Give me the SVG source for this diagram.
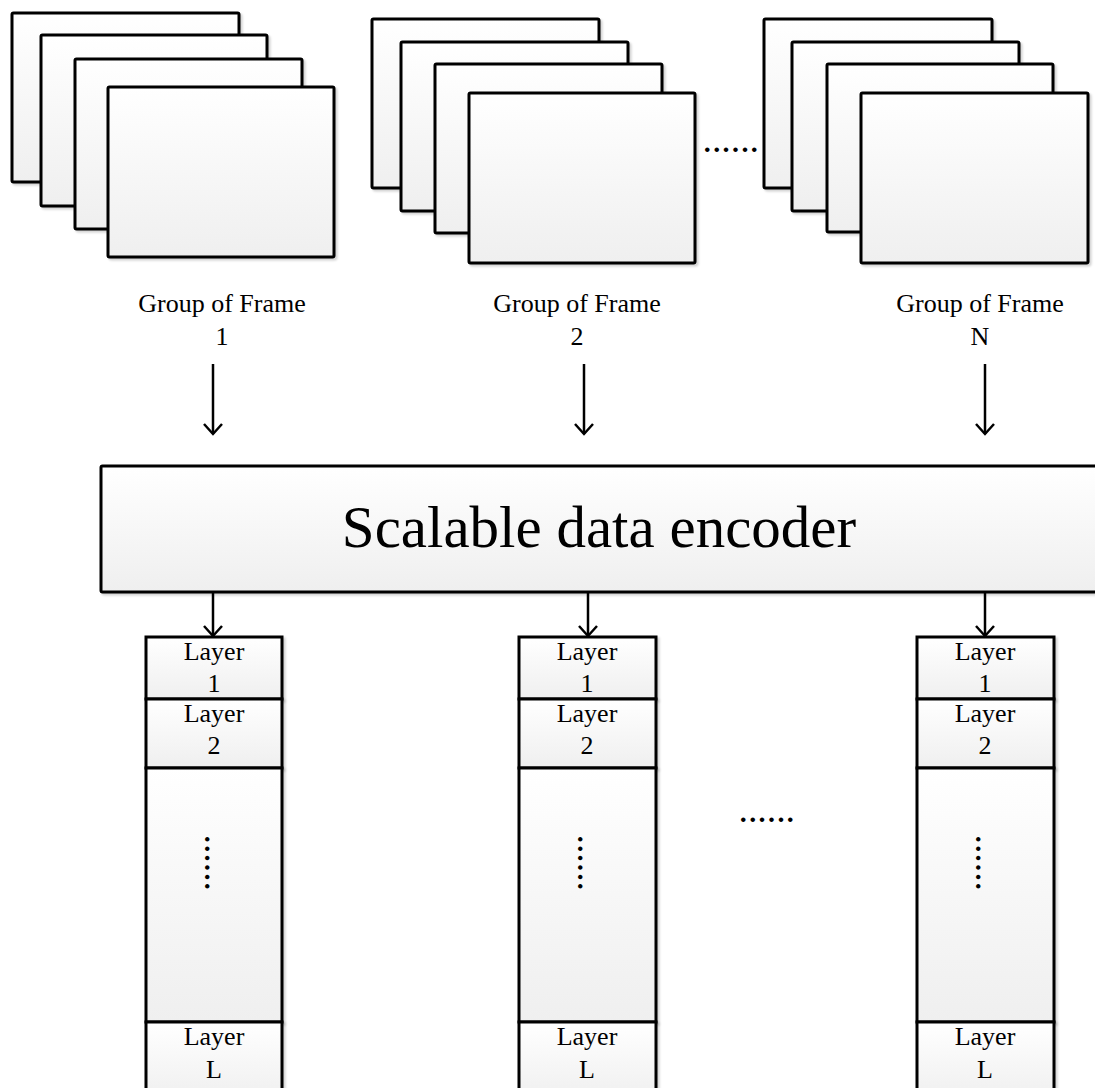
<svg xmlns="http://www.w3.org/2000/svg" width="1095" height="1088" viewBox="0 0 1095 1088">
<style>
.box{fill:url(#g);stroke:#000;stroke-width:3;filter:url(#sh)}
.t{font-family:"Liberation Serif","Times New Roman",serif;fill:#000;text-anchor:middle}
.lbl{font-size:26px}
.dots{font-size:28px;font-weight:bold;letter-spacing:2.4px}
.conn line,.conn path{stroke:#000;stroke-width:2.5;fill:none}
</style>
<defs>
<linearGradient id="g" x1="0" y1="0" x2="0" y2="1">
<stop offset="0" stop-color="#ffffff"/>
<stop offset="1" stop-color="#efefef"/>
</linearGradient>
<filter id="sh" x="-5%" y="-5%" width="115%" height="115%">
<feDropShadow dx="2" dy="2" stdDeviation="1" flood-color="#000" flood-opacity="0.18"/>
</filter>
</defs>

<g id="gof1">
<rect class="box" x="12" y="13" width="227" height="169" rx="1.5"/>
<rect class="box" x="41" y="35" width="226" height="171" rx="1.5"/>
<rect class="box" x="75" y="59" width="227" height="170" rx="1.5"/>
<rect class="box" x="108" y="87" width="226" height="170" rx="1.5"/>
<text class="t lbl" x="222" y="312">Group of Frame</text>
<text class="t lbl" x="222" y="345">1</text>
</g>

<g id="gof2">
<rect class="box" x="372" y="19" width="227" height="169" rx="1.5"/>
<rect class="box" x="401" y="42" width="227" height="169" rx="1.5"/>
<rect class="box" x="435" y="64" width="227" height="169" rx="1.5"/>
<rect class="box" x="469" y="93" width="226" height="170" rx="1.5"/>
<text class="t lbl" x="577" y="312">Group of Frame</text>
<text class="t lbl" x="577" y="345">2</text>
</g>

<text id="dots-top" class="t dots" x="732" y="152">......</text>

<g id="gofN">
<rect class="box" x="764" y="19" width="228" height="169" rx="1.5"/>
<rect class="box" x="792" y="42" width="227" height="169" rx="1.5"/>
<rect class="box" x="827" y="64" width="226" height="168" rx="1.5"/>
<rect class="box" x="861" y="93" width="227" height="170" rx="1.5"/>
<text class="t lbl" x="980" y="312">Group of Frame</text>
<text class="t lbl" x="980" y="345">N</text>
</g>

<g id="encoder">
<rect class="box" x="101" y="466" width="1000" height="126" rx="1.5"/>
<text class="t" x="599" y="547" font-size="59">Scalable data encoder</text>
</g>

<g id="layers1">
<rect class="box" x="146" y="637" width="136" height="62"/>
<rect class="box" x="146" y="699" width="136" height="69"/>
<rect class="box" x="146" y="768" width="136" height="254"/>
<rect class="box" x="146" y="1022" width="136" height="80"/>
<text class="t lbl" x="214" y="660">Layer</text>
<text class="t lbl" x="214" y="692">1</text>
<text class="t lbl" x="214" y="722">Layer</text>
<text class="t lbl" x="214" y="754">2</text>
<text class="t dots" transform="translate(205,864) rotate(90)">......</text>
<text class="t lbl" x="214" y="1045">Layer</text>
<text class="t lbl" x="214" y="1078">L</text>
</g>

<g id="layers2">
<rect class="box" x="519" y="637" width="137" height="62"/>
<rect class="box" x="519" y="699" width="137" height="69"/>
<rect class="box" x="519" y="768" width="137" height="254"/>
<rect class="box" x="519" y="1022" width="137" height="80"/>
<text class="t lbl" x="587" y="660">Layer</text>
<text class="t lbl" x="587" y="692">1</text>
<text class="t lbl" x="587" y="722">Layer</text>
<text class="t lbl" x="587" y="754">2</text>
<text class="t dots" transform="translate(578,864) rotate(90)">......</text>
<text class="t lbl" x="587" y="1045">Layer</text>
<text class="t lbl" x="587" y="1078">L</text>
</g>

<text id="dots-mid" class="t dots" x="768" y="822">......</text>

<g id="layers3">
<rect class="box" x="917" y="637" width="137" height="62"/>
<rect class="box" x="917" y="699" width="137" height="69"/>
<rect class="box" x="917" y="768" width="137" height="254"/>
<rect class="box" x="917" y="1022" width="137" height="80"/>
<text class="t lbl" x="985" y="660">Layer</text>
<text class="t lbl" x="985" y="692">1</text>
<text class="t lbl" x="985" y="722">Layer</text>
<text class="t lbl" x="985" y="754">2</text>
<text class="t dots" transform="translate(976,864) rotate(90)">......</text>
<text class="t lbl" x="985" y="1045">Layer</text>
<text class="t lbl" x="985" y="1078">L</text>
</g>

<g id="connectors" class="conn">
<line x1="213" y1="364" x2="213" y2="434"/><path d="M204,424 L213,434 L222,424"/>
<line x1="584" y1="364" x2="584" y2="434"/><path d="M575,424 L584,434 L593,424"/>
<line x1="985" y1="364" x2="985" y2="434"/><path d="M976,424 L985,434 L994,424"/>
<line x1="213" y1="592" x2="213" y2="636"/><path d="M204,626 L213,636 L222,626"/>
<line x1="588" y1="592" x2="588" y2="636"/><path d="M579,626 L588,636 L597,626"/>
<line x1="985" y1="592" x2="985" y2="636"/><path d="M976,626 L985,636 L994,626"/>
</g>
</svg>
